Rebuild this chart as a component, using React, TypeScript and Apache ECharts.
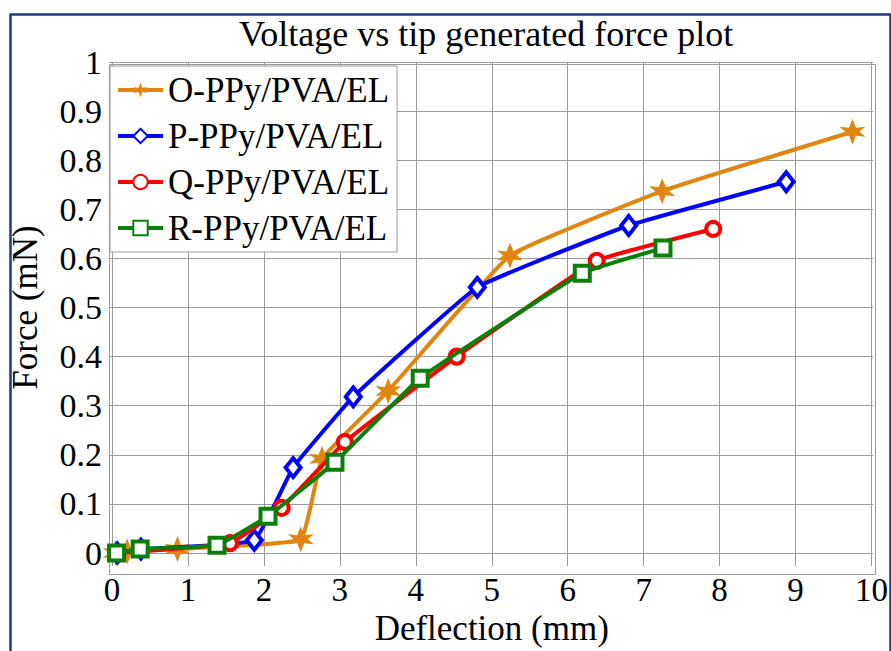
import React, { useEffect, useRef } from "react";
import * as echarts from "echarts";

const titleText = "Voltage vs tip generated force plot";
const xName = "Deflection (mm)";
const yName = "Force (mN)";
const seriesNames = ["O-PPy/PVA/EL", "P-PPy/PVA/EL", "Q-PPy/PVA/EL", "R-PPy/PVA/EL"];
const seriesColors = ["#E0850F", "#0000FF", "#FF0000", "#0A800A"];

const oX = [0.05, 0.2, 0.86, 2.48, 2.76, 3.63, 5.23, 7.23, 9.73];
const oY = [0.0, 0.003, 0.008, 0.028, 0.192, 0.33, 0.606, 0.737, 0.858];
const pX = [0.07, 0.38, 1.87, 2.38, 3.17, 4.8, 6.79, 8.86];
const pY = [0.0, 0.008, 0.026, 0.174, 0.318, 0.541, 0.667, 0.756];
const qX = [0.06, 1.55, 2.23, 3.06, 4.53, 6.37, 7.9];
const qY = [0.0, 0.02, 0.092, 0.226, 0.4, 0.595, 0.66];
const rX = [0.06, 0.37, 1.38, 2.05, 2.93, 4.05, 6.18, 7.24];
const rY = [0.0, 0.008, 0.016, 0.075, 0.185, 0.356, 0.57, 0.621];

const xMin = 0;
const xMax = 10;
const xInterval = 1;
const yMin = 0;
const yMax = 1;
const yInterval = 0.1;

function starPath(): string {
  const pts: string[] = [];
  const n = 6;
  for (let i = 0; i < n * 2; i++) {
    const ang = (Math.PI / n) * i - Math.PI / 2;
    let r: number;
    if (i % 2 === 1) r = 0.36;
    else r = i === 0 || i === 6 ? 1 : 0.78;
    const x = 10 + 10 * r * Math.cos(ang);
    const y = 10 + 10 * r * Math.sin(ang);
    pts.push(`${i === 0 ? "M" : "L"}${x.toFixed(2)} ${y.toFixed(2)}`);
  }
  return "path://" + pts.join(" ") + " Z";
}

function zip(xs: number[], ys: number[]): number[][] {
  return xs.map((x, i) => [x, ys[i]]);
}

const FONT = "'Liberation Serif', 'Times New Roman', serif";

export default function App() {
  const ref = useRef<HTMLDivElement>(null);
  useEffect(() => {
    if (!ref.current) return;
    const chart = echarts.init(ref.current, null, { renderer: "svg" });
    const symbols = [starPath(), "diamond", "circle", "rect"];
    const sizes: any[] = [26, [15, 19], 14, 15];
    const datas = [zip(oX, oY), zip(pX, pY), zip(qX, qY), zip(rX, rY)];
    const series = seriesNames.map((name, i) => ({
      name,
      type: "line",
      xAxisIndex: 2,
      yAxisIndex: 2,
      data: datas[i],
      symbol: symbols[i],
      symbolSize: sizes[i],
      showAllSymbol: true,
      smooth: 0.1,
      clip: false,
      lineStyle: { color: seriesColors[i], width: 4 },
      itemStyle:
        i === 0
          ? { color: seriesColors[i], borderWidth: 0 }
          : { color: "#ffffff", borderColor: seriesColors[i], borderWidth: 4 },
      color: seriesColors[i],
      z: 3 + i,
    }));
    const hiddenAxis = (grid: number, min: number, max: number) => ({
      type: "value",
      gridIndex: grid,
      min,
      max,
      show: false,
      splitLine: { show: false },
    });
    chart.setOption({
      animation: false,
      backgroundColor: "#ffffff",
      textStyle: { fontFamily: FONT },
      title: {
        text: titleText,
        left: 234,
        top: 11,
        textStyle: { fontFamily: FONT, fontSize: 36, fontWeight: "normal", color: "#000" },
      },
      legend: {
        left: 110,
        top: 66,
        orient: "vertical",
        selectedMode: false,
        backgroundColor: "#ffffff",
        borderColor: "#999999",
        borderWidth: 1,
        padding: [3, 8, 3, 6],
        itemGap: 4,
        itemWidth: 45,
        itemHeight: 18,
        lineStyle: { width: 4 },
        textStyle: { fontFamily: FONT, fontSize: 35, color: "#000", lineHeight: 42 },
        z: 20,
      },
      grid: [
        { left: 107, right: 18, top: 62, bottom: 98, containLabel: false },
        { left: 112, right: 18, top: 62, bottom: 79, containLabel: false },
        { left: 112, right: 18, top: 62, bottom: 98, containLabel: false },
      ],
      xAxis: [
        hiddenAxis(0, xMin, xMax),
        {
          type: "value",
          gridIndex: 1,
          min: xMin,
          max: xMax,
          interval: xInterval,
          name: xName,
          nameLocation: "middle",
          nameGap: 40,
          nameTextStyle: { fontFamily: FONT, fontSize: 35, color: "#000" },
          axisLine: { show: false },
          axisTick: { show: false },
          axisLabel: { fontFamily: FONT, fontSize: 33, color: "#000", margin: 7 },
          splitLine: { show: true, lineStyle: { color: "#9a9a9a", width: 1 } },
        },
        hiddenAxis(2, xMin, xMax),
      ],
      yAxis: [
        {
          type: "value",
          gridIndex: 0,
          min: yMin,
          max: yMax,
          interval: yInterval,
          name: yName,
          nameLocation: "middle",
          nameGap: 66,
          nameTextStyle: { fontFamily: FONT, fontSize: 35, color: "#000" },
          axisLine: { show: false },
          axisTick: { show: false },
          axisLabel: { fontFamily: FONT, fontSize: 34, color: "#000", margin: 7 },
          splitLine: { show: true, lineStyle: { color: "#9a9a9a", width: 1 } },
        },
        hiddenAxis(1, yMin, yMax),
        hiddenAxis(2, yMin, yMax),
      ],
      graphic: [
        {
          type: "rect",
          left: 8,
          top: 12,
          shape: { x: 0, y: 0, width: 880, height: 660 },
          style: { fill: "none", stroke: "#1F3B73", lineWidth: 2.5 },
          silent: true,
          z: 0,
        },
        {
          type: "rect",
          left: 107,
          top: 62,
          shape: { x: 0, y: 0, width: 766, height: 510 },
          style: { fill: "none", stroke: "#9a9a9a", lineWidth: 1 },
          silent: true,
          z: 1,
        },
      ],
      series,
    });
    return () => chart.dispose();
  }, []);
  return (
    <div
      ref={ref}
      style={{ position: "fixed", left: 0, top: 0, width: 891, height: 651 }}
    />
  );
}
